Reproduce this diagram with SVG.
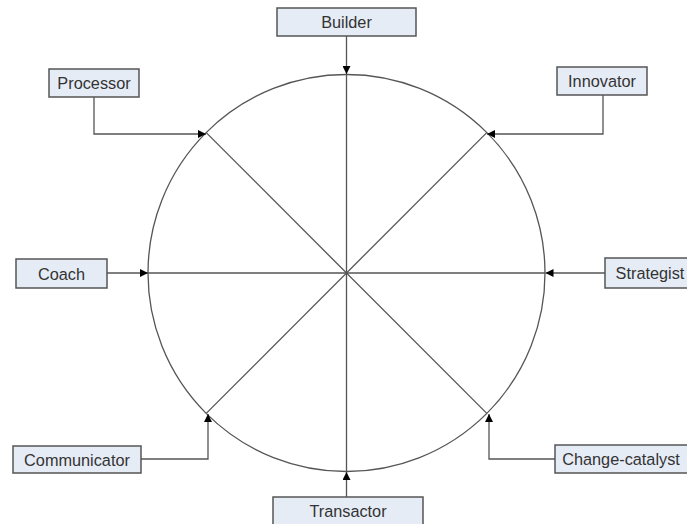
<svg xmlns="http://www.w3.org/2000/svg" width="687" height="524" viewBox="0 0 687 524">
<style>
.box{fill:#e6ecf6;stroke:#555;stroke-width:1.5}
.lbl{font-family:"Liberation Sans",Arial,sans-serif;font-size:16.3px;fill:#333;text-anchor:middle;dominant-baseline:central}
.ln{fill:none;stroke:#555;stroke-width:1.3}
.ar{fill:none;stroke:#555;stroke-width:1.3;marker-end:url(#ah)}
</style>
<defs>
<marker id="ah" viewBox="0 0 10 10" refX="10" refY="5" markerWidth="8" markerHeight="8" markerUnits="userSpaceOnUse" orient="auto">
<path d="M0,0 L10,5 L0,10 z" fill="#000"/>
</marker>
</defs>
<rect width="687" height="524" fill="#fff"/>
<g id="wheel">
<circle class="ln" cx="346.5" cy="273" r="198.5"/>
<line class="ln" x1="346.5" y1="74.5" x2="346.5" y2="471.5"/>
<line class="ln" x1="148" y1="273" x2="545" y2="273"/>
<line class="ln" x1="206.2" y1="132.6" x2="486.8" y2="413.4"/>
<line class="ln" x1="486.8" y1="132.6" x2="206.2" y2="413.4"/>
</g>
<g id="connectors">
<path class="ar" d="M346.5,36 V74"/>
<path class="ar" d="M94,97 V134 H206"/>
<path class="ar" d="M603,95 V134 H487"/>
<path class="ar" d="M107,273 H148"/>
<path class="ar" d="M605,273 H545.5"/>
<path class="ar" d="M141,459 H208 V414"/>
<path class="ar" d="M555,459 H489 V414"/>
<path class="ar" d="M346.5,497 V472"/>
</g>
<g id="builder"><rect class="box" x="277" y="8" width="139" height="28"/><text class="lbl" x="346.5" y="22">Builder</text></g>
<g id="processor"><rect class="box" x="49" y="69" width="90" height="28"/><text class="lbl" x="94" y="83">Processor</text></g>
<g id="innovator"><rect class="box" x="557" y="67" width="90" height="28"/><text class="lbl" x="602" y="81">Innovator</text></g>
<g id="coach"><rect class="box" x="16" y="259" width="91" height="29"/><text class="lbl" x="61.5" y="273.5">Coach</text></g>
<g id="strategist"><rect class="box" x="605" y="258" width="90" height="30"/><text class="lbl" x="650" y="273">Strategist</text></g>
<g id="communicator"><rect class="box" x="13" y="446" width="128" height="27"/><text class="lbl" x="77" y="459.5">Communicator</text></g>
<g id="change-catalyst"><rect class="box" x="555" y="445" width="140" height="28"/><text class="lbl" x="621" y="459">Change-catalyst</text></g>
<g id="transactor"><rect class="box" x="273" y="497" width="150" height="32"/><text class="lbl" x="348" y="511">Transactor</text></g>
</svg>
